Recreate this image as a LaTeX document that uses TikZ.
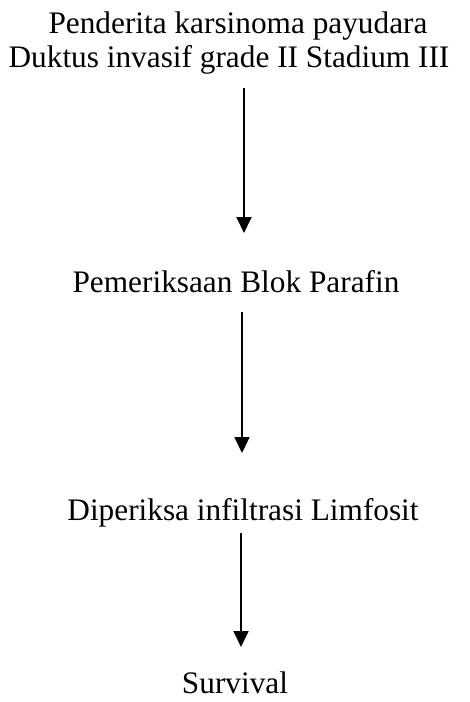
\documentclass[tikz,border=0pt]{standalone}
\usepackage{fontspec}
\setmainfont{Liberation Serif}
\usetikzlibrary{arrows.meta}
\begin{document}
\begin{tikzpicture}[x=1pt,y=-1pt,
  lbl/.style={font=\fontsize{31.3}{37}\selectfont, inner sep=0pt, anchor=base},
  conn/.style={line width=1.8pt, -{Triangle[length=16pt,width=15pt]}}]
\useasboundingbox (0,0) rectangle (469,702);
\node[lbl] (a) at (238,33) {Penderita karsinoma payudara};
\node[lbl] (a2) at (229,67) {Duktus invasif grade II Stadium III};
\node[lbl] (b) at (236,292) {Pemeriksaan Blok Parafin};
\node[lbl] (c) at (243,520) {Diperiksa infiltrasi Limfosit};
\node[lbl] (d) at (235,693) {Survival};
\coordinate (p1) at (244,88);
\coordinate (p2) at (244,233);
\coordinate (q1) at (242,312);
\coordinate (q2) at (242,453);
\coordinate (r1) at (241,533);
\coordinate (r2) at (241,647);
\draw[conn] (p1) -- (p2);
\draw[conn] (q1) -- (q2);
\draw[conn] (r1) -- (r2);
\end{tikzpicture}
\end{document}
